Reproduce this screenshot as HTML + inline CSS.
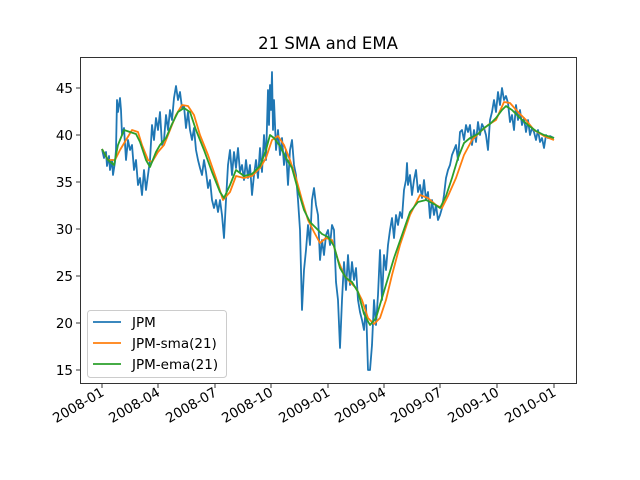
<!DOCTYPE html>
<html><head><style>body{margin:0;background:#fff}svg{display:block}text{font-family:"DejaVu Sans","Liberation Sans",sans-serif}</style></head><body>
<svg width="640" height="480" xmlns="http://www.w3.org/2000/svg">
<rect width="640" height="480" fill="#fff"/>
<text x="328" y="49" font-size="16.5" text-anchor="middle">21 SMA and EMA</text>
<g fill="none" stroke-linejoin="round" stroke-width="1.8">
<polyline stroke="#1f77b4" points="102,149 104,158 106,152 107,166 109,156 110,170 112,160 113,175 115,162 116,150 117,100 118,112 120,98 121,110 122,135 124,128 126,160 128,140 130,150 132,145 134,170 136,160 138,185 140,178 142,195 144,170 146,190 148,175 150,160 152,125 154,140 156,118 158,130 160,112 162,145 164,140 166,115 168,130 170,110 172,120 174,98 176,86 178,100 180,92 182,108 184,106 186,128 188,112 190,130 192,140 194,128 196,150 198,160 200,168 202,175 204,160 206,172 208,188 210,180 212,200 214,208 216,200 218,212 220,200 222,215 224,238 226,200 228,165 230,150 232,175 234,152 236,168 238,148 240,172 242,165 244,180 246,160 248,178 250,165 252,195 254,175 256,160 258,178 260,148 262,172 264,135 266,160 268,90 269,125 270,85 271,110 272,72 273,130 274,100 276,150 278,130 280,155 282,138 284,165 286,150 288,185 290,150 292,140 294,165 296,175 298,200 300,230 302,310 304,270 306,250 308,225 310,245 312,200 314,188 316,205 318,215 320,260 322,240 324,255 326,235 328,230 330,245 332,225 334,230 336,282 338,300 340,348 342,300 344,262 346,290 348,255 350,285 352,262 354,280 356,268 358,300 360,312 362,320 364,330 366,305 368,370 370,370 372,345 374,300 376,325 378,295 380,250 382,300 384,255 386,270 388,245 390,230 392,218 394,238 396,215 398,225 400,212 402,218 404,190 406,180 407,163 408,185 410,175 412,195 414,180 416,170 418,192 420,185 422,198 424,180 426,200 428,192 430,218 432,200 434,215 436,205 438,220 440,215 442,208 444,195 446,178 448,170 450,165 452,155 454,150 456,145 458,160 460,132 462,130 464,140 466,125 468,132 470,125 472,145 474,130 476,142 478,122 480,135 482,124 484,128 486,135 488,150 490,120 492,112 494,100 496,112 498,92 500,105 502,88 504,100 506,96 508,103 510,122 512,115 514,130 516,105 518,120 520,110 522,125 524,118 526,132 528,120 530,135 532,128 534,132 536,140 538,130 540,142 542,138 544,148 546,135 548,138 550,136 554,138"/>
<polyline stroke="#ff7f0e" points="102,149 108,160 115,160 120,150 126,140 132,130 138,132 142,145 148,160 152,162 158,152 164,145 170,130 176,115 182,105 188,106 194,115 200,135 208,155 216,178 223,200 230,192 236,176 244,178 252,176 260,168 266,158 272,140 278,136 284,145 290,160 296,178 302,200 308,220 314,232 320,243 326,238 332,240 338,260 344,275 350,282 356,288 362,300 368,318 374,324 380,318 386,300 392,275 400,245 410,215 420,195 428,198 436,205 442,208 448,196 456,178 464,155 472,140 480,132 488,125 496,120 504,102 510,103 518,112 526,120 534,130 544,136 554,140"/>
<polyline stroke="#2ca02c" points="102,149 108,160 114,165 118,145 124,130 130,132 136,134 140,142 146,160 150,167 156,152 160,145 166,138 172,124 178,112 184,108 190,112 196,130 204,150 212,172 220,192 224,198 230,185 236,170 244,176 252,174 260,166 266,150 270,135 274,138 280,146 286,158 292,168 298,190 304,210 310,222 316,228 322,234 328,237 334,246 340,268 346,278 352,282 358,292 364,314 370,325 376,318 382,298 388,278 394,258 402,235 410,212 418,202 426,200 434,204 440,208 446,196 452,178 458,158 464,143 470,138 478,134 484,128 490,124 496,118 502,110 506,106 512,110 520,118 528,125 536,131 544,135 554,138"/>
</g>
<rect x="80.5" y="57.5" width="496" height="326" fill="none" stroke="#000" stroke-width="0.8"/>
<g stroke="#000" stroke-width="0.8">
<line x1="76" x2="80" y1="88" y2="88"/><line x1="76" x2="80" y1="135" y2="135"/><line x1="76" x2="80" y1="182" y2="182"/><line x1="76" x2="80" y1="229" y2="229"/><line x1="76" x2="80" y1="276" y2="276"/><line x1="76" x2="80" y1="323" y2="323"/><line x1="76" x2="80" y1="370" y2="370"/>
<line x1="102" x2="102" y1="384" y2="388"/><line x1="158" x2="158" y1="384" y2="388"/><line x1="215" x2="215" y1="384" y2="388"/><line x1="271" x2="271" y1="384" y2="388"/><line x1="328" x2="328" y1="384" y2="388"/><line x1="384" x2="384" y1="384" y2="388"/><line x1="440" x2="440" y1="384" y2="388"/><line x1="497" x2="497" y1="384" y2="388"/><line x1="554" x2="554" y1="384" y2="388"/>
</g>
<g font-size="13.5" text-anchor="end">
<text x="73" y="93">45</text><text x="73" y="140">40</text><text x="73" y="187">35</text><text x="73" y="234">30</text><text x="73" y="281">25</text><text x="73" y="328">20</text><text x="73" y="375">15</text>
<text transform="translate(105,395) rotate(-30)">2008-01</text>
<text transform="translate(161,395) rotate(-30)">2008-04</text>
<text transform="translate(218,395) rotate(-30)">2008-07</text>
<text transform="translate(274,395) rotate(-30)">2008-10</text>
<text transform="translate(331,395) rotate(-30)">2009-01</text>
<text transform="translate(387,395) rotate(-30)">2009-04</text>
<text transform="translate(443,395) rotate(-30)">2009-07</text>
<text transform="translate(500,395) rotate(-30)">2009-10</text>
<text transform="translate(557,395) rotate(-30)">2010-01</text>
</g>
<rect x="87.5" y="310.5" width="139" height="67" rx="3" fill="#fff" fill-opacity="0.8" stroke="#ccc"/>
<g stroke-width="1.8"><line x1="93" x2="121" y1="322" y2="322" stroke="#1f77b4"/><line x1="93" x2="121" y1="343" y2="343" stroke="#ff7f0e"/><line x1="93" x2="121" y1="364" y2="364" stroke="#2ca02c"/></g>
<g font-size="13.5"><text x="132" y="327">JPM</text><text x="132" y="348">JPM-sma(21)</text><text x="132" y="369">JPM-ema(21)</text></g>
</svg>
</body></html>
